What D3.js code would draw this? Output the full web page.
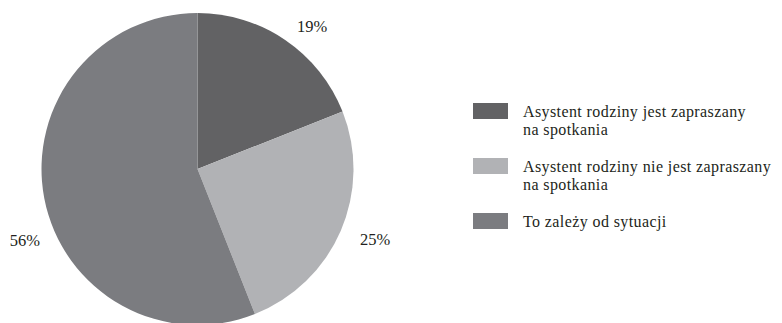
<!DOCTYPE html>
<html>
<head>
<meta charset="utf-8">
<script src="https://cdn.jsdelivr.net/npm/d3@7"></script>
<style>
  html, body { margin: 0; padding: 0; background: #fff; }
  svg text { font-family: "Liberation Serif", "Times New Roman", serif; fill: #231f20; }
</style>
</head>
<body>
<svg id="chart" width="782" height="323"></svg>
<script>
// Answer categories (legend lines) and their shares in percent
const categories = [
  ["Asystent rodziny jest zapraszany", "na spotkania"],
  ["Asystent rodziny nie jest zapraszany", "na spotkania"],
  ["To zależy od sytuacji"]
];
const values = [19, 25, 56];
const colors = ["#626264", "#b1b2b5", "#7b7c80"];

const svg = d3.select("#chart");
const cx = 197.5, cy = 169, radius = 156;

const pie = d3.pie().sort(null).value(d => d.value);
const arcs = pie(values.map((v, i) => ({ value: v, i })));
const arc = d3.arc().innerRadius(0).outerRadius(radius);
const labelArc = d3.arc().innerRadius(radius + 30).outerRadius(radius + 30);

const g = svg.append("g").attr("transform", `translate(${cx},${cy})`);

g.selectAll("path.slice")
  .data(arcs)
  .join("path")
  .attr("class", "slice")
  .attr("d", arc)
  .attr("fill", d => colors[d.data.i]);

// Percent labels outside the pie, nudged away from the slice edges
const labelOffsets = [[10, 17], [7, 2], [10, 42]];
g.selectAll("text.pct")
  .data(arcs)
  .join("text")
  .attr("class", "pct")
  .attr("text-anchor", "middle")
  .attr("font-size", 16.5)
  .attr("x", d => labelArc.centroid(d)[0] + labelOffsets[d.data.i][0])
  .attr("y", d => labelArc.centroid(d)[1] + labelOffsets[d.data.i][1])
  .text(d => d.data.value + "%");

// Legend
const legendY = [103, 158, 213];
const legend = svg.append("g");
categories.forEach((lines, i) => {
  const item = legend.append("g").attr("transform", `translate(473,${legendY[i]})`);
  item.append("rect")
    .attr("width", 35).attr("height", 16)
    .attr("fill", colors[i]);
  const t = item.append("text")
    .attr("x", 50).attr("y", 14)
    .attr("font-size", 16)
    .attr("letter-spacing", 0.4);
  lines.forEach((line, j) => {
    t.append("tspan").attr("x", 50).attr("dy", j === 0 ? 0 : 17.8).text(line);
  });
});
</script>
</body>
</html>
